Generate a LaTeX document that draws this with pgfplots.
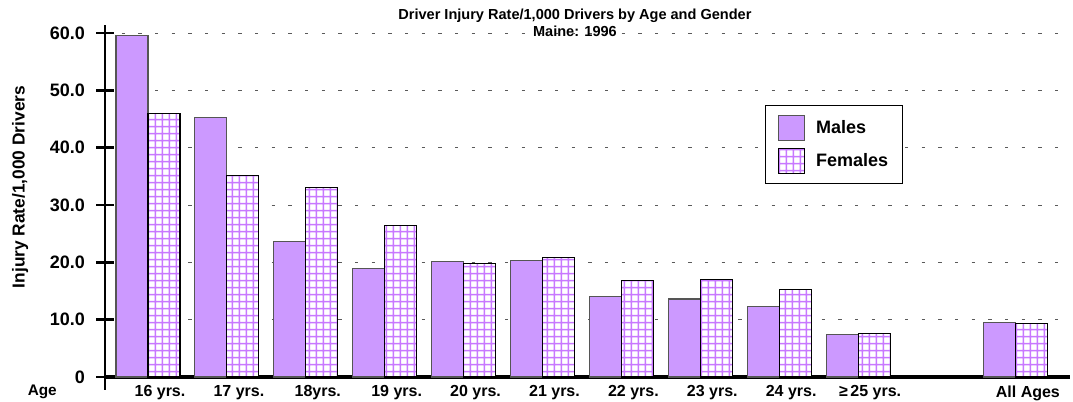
\documentclass[border=0pt]{standalone}
\usepackage{fontspec}
\setmainfont{Liberation Sans}
\usepackage{pgfplots}
\pgfplotsset{compat=1.18}
\usetikzlibrary{patterns}
\definecolor{malefill}{RGB}{204,153,255}
\definecolor{maledraw}{RGB}{85,85,85}
\definecolor{gridviolet}{RGB}{200,120,255}
\definecolor{dashgray}{RGB}{90,90,90}
\pgfdeclarepatternformonly{vgrid}{\pgfpointorigin}{\pgfpoint{5.2pt}{5.2pt}}{\pgfpoint{5.2pt}{5.2pt}}{%
  \pgfsetlinewidth{1.1pt}%
  \pgfpathmoveto{\pgfpoint{2.6pt}{0pt}}\pgfpathlineto{\pgfpoint{2.6pt}{5.2pt}}%
  \pgfpathmoveto{\pgfpoint{0pt}{2.6pt}}\pgfpathlineto{\pgfpoint{5.2pt}{2.6pt}}%
  \pgfusepath{stroke}}
\begin{document}
\begin{tikzpicture}
\begin{axis}[
  at={(0,0)}, anchor=south west,
  scale only axis, width=723.75pt, height=273.75pt,
  xmin=-0.545, xmax=11.686, ymin=-2.27, ymax=61.4,
  axis x line=middle, axis y line=left,
  x axis line style={-, line width=2.6pt, black},
  y axis line style={-, line width=2.2pt, black},
  hide obscured x ticks=false, hide obscured y ticks=false,
  ybar=0pt, bar width=24pt,
  xtick={0,1,2,3,4,5,6,7,8,9,11},
  xticklabels={16 yrs., 17 yrs., 18yrs., 19 yrs., 20 yrs., 21 yrs., 22 yrs., 23 yrs., 24 yrs., ≥\,25 yrs., All Ages},
  xtick style={draw=none},
  xticklabel style={font=\bfseries\fontsize{12}{14}\selectfont, xshift=9pt, yshift=3.5pt},
  ytick={0,10,20,30,40,50,60},
  yticklabels={0,10.0,20.0,30.0,40.0,50.0,60.0},
  ytick style={line width=2.2pt, black},
  major tick length=13pt, tick align=center,
  yticklabel style={font=\bfseries\fontsize{13.5}{15}\selectfont, xshift=-5pt},
  ymajorgrids, major grid style={dash pattern=on 2.5pt off 10pt, dashgray, line width=0.7pt},
  title={Driver Injury Rate/1,000 Drivers by Age and Gender\\Maine: 1996},
  title style={at={(rel axis cs:0.487,1.036)}, anchor=north, align=center, font=\bfseries\fontsize{10.9}{12.8}\selectfont},
  ylabel={Injury Rate/1,000 Drivers},
  ylabel style={at={(rel axis cs:-0.088,0.556)}, anchor=center, rotate=0, font=\bfseries\fontsize{13}{15}\selectfont},
  xlabel={Age},
  xlabel style={at={(rel axis cs:-0.065,-0.006)}, anchor=center, font=\bfseries\fontsize{11.5}{13}\selectfont},
  legend style={at={(rel axis cs:0.684,0.781)}, anchor=north west, draw=black, line width=0.8pt,
    font=\bfseries\fontsize{13.5}{15}\selectfont, inner xsep=9pt, inner ysep=7pt, row sep=5pt,
    /tikz/every odd column/.style={column sep=6pt}},
  legend cell align=left,
  legend image code/.code={\draw[#1] (0pt,-9.5pt) rectangle (20pt,9.5pt);},
]
\addplot[fill=malefill, draw=maledraw, line width=0.8pt] coordinates {
  (0,59.6) (1,45.3) (2,23.7) (3,19.0) (4,20.1) (5,20.3) (6,14.0) (7,13.6) (8,12.3) (9,7.45) (11,9.45)};
\addlegendentry{Males}
\addplot[draw=black, line width=0.8pt, preaction={fill=white}, pattern=vgrid, pattern color=gridviolet] coordinates {
  (0,45.9) (1,35.2) (2,33.1) (3,26.4) (4,19.8) (5,20.9) (6,16.8) (7,16.95) (8,15.2) (9,7.55) (11,9.4)};
\addlegendentry{Females}
\end{axis}
\pgfresetboundingbox
\path[use as bounding box] (-78.75pt,-9pt) rectangle (726pt,292.5pt);
\end{tikzpicture}
\end{document}
